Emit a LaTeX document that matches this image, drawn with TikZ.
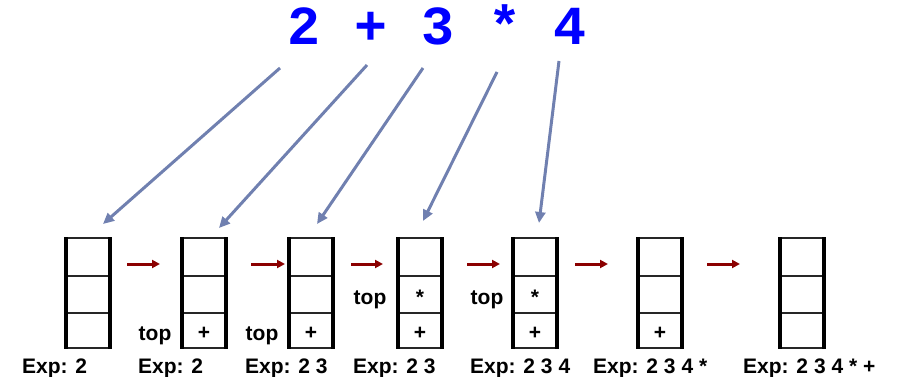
\documentclass[tikz,border=0pt]{standalone}
\usepackage{fontspec}
\setmainfont{Liberation Sans}
\newfontfamily\exprfont{Liberation Mono}
\usetikzlibrary{arrows.meta}
\definecolor{exblue}{RGB}{0,0,255}
\definecolor{arrgray}{RGB}{112,128,176}
\definecolor{movered}{RGB}{139,0,0}
\begin{document}
\begin{tikzpicture}[x=1pt,y=-1pt,
  lbl/.style={font=\fontsize{21}{24}\selectfont\bfseries, inner sep=0pt, anchor=base},
  explbl/.style={lbl, anchor=base west},
  chr/.style={font=\exprfont\fontsize{55}{60}\selectfont\bfseries, text=exblue, inner sep=0pt, anchor=base},
  feed/.style={arrgray, line width=3pt, -{Triangle[length=11pt,width=10pt]}},
  move/.style={movered, line width=3pt, -{Triangle[length=8pt,width=8pt]}},
  stackv/.style={line width=4.5pt},
  stackh/.style={line width=1.8pt, black!85},
]
\useasboundingbox (0,0) rectangle (899,377);

% stacks
\foreach \i/\cx in {1/88,2/204,3/311,4/420,5/535,6/660,7/802} {
  \draw[stackh] ({\cx-22},238) -- ({\cx+22},238)
                ({\cx-22},276) -- ({\cx+22},276)
                ({\cx-22},313) -- ({\cx+22},313)
                ({\cx-22},348) -- ({\cx+22},348);
  \draw[stackv] ({\cx-22},237) -- ({\cx-22},349)
                ({\cx+22},237) -- ({\cx+22},349);
  \coordinate (top\i) at (\cx,238);
}

% expression
\node[chr] (c1) at (304,45) {2};
\node[chr] (c2) at (371,45) {+};
\node[chr] (c3) at (438,45) {3};
\node[chr] (c4) at (505,45) {*};
\node[chr] (c5) at (570,45) {4};

% feed arrows
\coordinate (f1) at (280,68);  \coordinate (t1) at (103,224);
\coordinate (f2) at (367,65);  \coordinate (t2) at (219,228);
\coordinate (f3) at (423,68);  \coordinate (t3) at (317,224);
\coordinate (f4) at (497,72);  \coordinate (t4) at (423,221);
\coordinate (f5) at (559,61);  \coordinate (t5) at (539,223);
\foreach \k in {1,...,5} { \draw[feed] (f\k) -- (t\k); }

% move arrows
\foreach \k/\a/\b in {1/127/160,2/251/285,3/351/383,4/467/500,5/575/608,6/707/740} {
  \coordinate (ma\k) at (\a,264);
  \coordinate (mb\k) at (\b,264);
  \draw[move] (ma\k) -- (mb\k);
}

% stack contents
\node[lbl] (p2) at (204,339.5) {+};
\node[lbl] (p3) at (311,339.5) {+};
\node[lbl] (p4) at (420,339.5) {+};
\node[lbl] (s4) at (420,304) {*};
\node[lbl] (p5) at (535,339.5) {+};
\node[lbl] (s5) at (535,304) {*};
\node[lbl] (p6) at (660,339.5) {+};

% top labels
\node[lbl] (tp2) at (155,340) {top};
\node[lbl] (tp3) at (262,340) {top};
\node[lbl] (tp4) at (370,304) {top};
\node[lbl] (tp5) at (487,304) {top};

% expression labels
\node[explbl] (e1) at (22,373) {Exp: 2};
\node[explbl] (e2) at (138,373) {Exp: 2};
\node[explbl] (e3) at (245,373) {Exp: 2 3};
\node[explbl] (e4) at (353,373) {Exp: 2 3};
\node[explbl] (e5) at (470,373) {Exp: 2 3 4};
\node[explbl] (e6) at (593,373) {Exp: 2 3 4 *};
\node[explbl] (e7) at (743,373) {Exp: 2 3 4 * +};
\end{tikzpicture}
\end{document}
